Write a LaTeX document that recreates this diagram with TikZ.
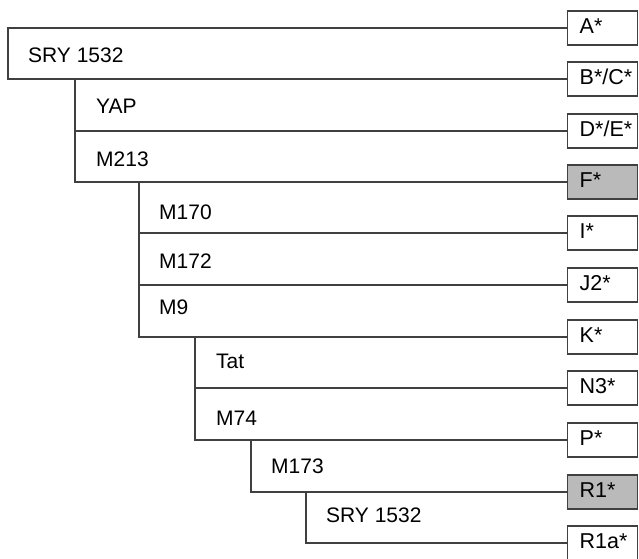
\documentclass[tikz,border=0pt]{standalone}
\usepackage{fontspec}
\setmainfont{Liberation Sans}
\begin{document}
\begin{tikzpicture}[x=1pt,y=-1pt,
  conn/.style={draw=black!75, line width=1.3pt},
  hbox/.style={draw=black!75, line width=1.3pt, fill=white, minimum width=70pt, minimum height=34pt,
    anchor=west, inner xsep=12pt, inner ysep=0pt, text width=46pt, align=left,
    text height=11pt, text depth=1pt, font=\fontsize{21.5}{24}\selectfont},
  gbox/.style={hbox, fill=black!27},
  rlab/.style={anchor=base west, inner sep=0pt, font=\fontsize{21}{24}\selectfont}]
\useasboundingbox (0,0) rectangle (639,558);
\clip (0,0) rectangle (639,558);
% boxes
\node[hbox] (bA)   at (567,28)  {A*};
\node[hbox] (bBC)  at (567,79)  {B*/C*};
\node[hbox] (bDE)  at (567,131) {D*/E*};
\node[gbox] (bF)   at (567,182) {F*};
\node[hbox] (bI)   at (567,233) {I*};
\node[hbox] (bJ)   at (567,285) {J2*};
\node[hbox] (bK)   at (567,337) {K*};
\node[hbox] (bN)   at (567,388) {N3*};
\node[hbox] (bP)   at (567,440) {P*};
\node[gbox] (bR)   at (567,492) {R1*};
\node[hbox] (bRa)  at (567,543) {R1a*};
% branch points
\coordinate (c0) at (8,79);
\coordinate (c1) at (75,79);
\coordinate (c2) at (139,182);
\coordinate (c3) at (195,337);
\coordinate (c4) at (251,440);
\coordinate (c5) at (306,492);
% connectors
\draw[conn] (bA.west) -| (c0) -- (bBC.west);
\draw[conn] (c1) |- (bF.west);
\draw[conn] (c1 |- bDE.west) -- (bDE.west);
\draw[conn] (c2) |- (bK.west);
\draw[conn] (c2 |- bI.west) -- (bI.west);
\draw[conn] (c2 |- bJ.west) -- (bJ.west);
\draw[conn] (c3) |- (bP.west);
\draw[conn] (c3 |- bN.west) -- (bN.west);
\draw[conn] (c4) |- (bR.west);
\draw[conn] (c5) |- (bRa.west);
% labels
\node[rlab] (l0) at (28,62)  {SRY 1532};
\node[rlab] (l1) at (96,113) {YAP};
\node[rlab] (l2) at (96,166) {M213};
\node[rlab] (l3) at (159,219) {M170};
\node[rlab] (l4) at (159,268) {M172};
\node[rlab] (l5) at (159,314) {M9};
\node[rlab] (l6) at (216,368) {Tat};
\node[rlab] (l7) at (216,425) {M74};
\node[rlab] (l8) at (271,473) {M173};
\node[rlab] (l9) at (326,522) {SRY 1532};
\end{tikzpicture}
\end{document}
